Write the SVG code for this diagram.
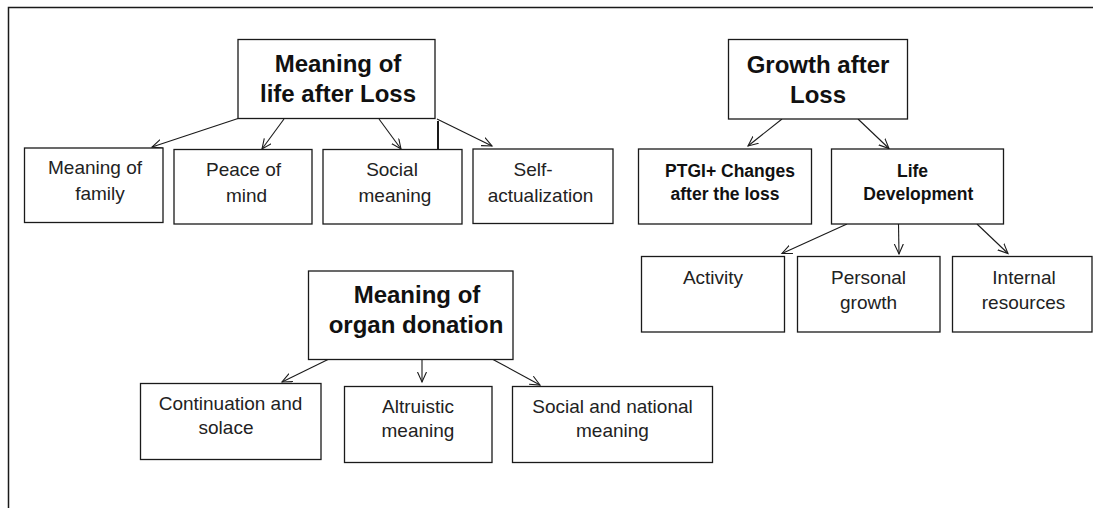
<svg xmlns="http://www.w3.org/2000/svg" width="1093" height="508" viewBox="0 0 1093 508">
<defs>
<style>
.box{fill:#fff;stroke:#1a1a1a;stroke-width:1.3}
.head{font-family:"Liberation Sans",Arial,sans-serif;font-weight:bold;font-size:24px;fill:#111;text-anchor:middle}
.sub{font-family:"Liberation Sans",Arial,sans-serif;font-weight:bold;font-size:17.5px;fill:#111;text-anchor:middle}
.lbl{font-family:"Liberation Sans",Arial,sans-serif;font-size:19px;fill:#222;text-anchor:middle}
.con{stroke:#1a1a1a;stroke-width:1.1;fill:none;marker-end:url(#arr)}
</style>
<marker id="arr" markerUnits="userSpaceOnUse" markerWidth="12" markerHeight="12" viewBox="0 0 12 12" refX="10" refY="5" orient="auto">
<path d="M0,0.5 L10,5 L0,9.5" fill="none" stroke="#1a1a1a" stroke-width="1.1"/>
</marker>
</defs>
<rect width="1093" height="508" fill="#fff"/>
<path d="M8.5,508 V7.5 H1093" fill="none" stroke="#1a1a1a" stroke-width="1.5"/>

<g id="connectors">
<line class="con" x1="238" y1="118.5" x2="152" y2="147"/>
<line class="con" x1="284" y1="119" x2="262" y2="149"/>
<line class="con" x1="379" y1="119" x2="401" y2="149"/>
<line x1="438" y1="121" x2="438" y2="149" stroke="#1a1a1a" stroke-width="2"/>
<line class="con" x1="437" y1="119" x2="492" y2="146"/>
<line class="con" x1="782" y1="119" x2="748" y2="146"/>
<line class="con" x1="858" y1="119" x2="889" y2="148.5"/>
<line class="con" x1="847" y1="224" x2="782" y2="253.5"/>
<line class="con" x1="898.5" y1="224" x2="899" y2="254"/>
<line class="con" x1="977" y1="224" x2="1008" y2="253.5"/>
<line class="con" x1="328" y1="359.5" x2="282" y2="382"/>
<line class="con" x1="422" y1="359.5" x2="422" y2="382"/>
<line class="con" x1="493" y1="359.5" x2="540" y2="385"/>
</g>

<g id="meaning-life">
<rect class="box" x="238" y="39.5" width="197" height="79"/>
<text class="head" x="338" y="71.7">Meaning of</text>
<text class="head" x="338" y="101.7">life after Loss</text>
</g>
<g id="meaning-family">
<rect class="box" x="24.5" y="148" width="138.5" height="74.5"/>
<text class="lbl" x="95" y="174">Meaning of</text>
<text class="lbl" x="100" y="199.5">family</text>
</g>
<g id="peace-mind">
<rect class="box" x="174" y="149.5" width="138" height="74.5"/>
<text class="lbl" x="243.5" y="176">Peace of</text>
<text class="lbl" x="246.5" y="201.5">mind</text>
</g>
<g id="social-meaning">
<rect class="box" x="323" y="149.5" width="139" height="74.5"/>
<text class="lbl" x="392" y="176">Social</text>
<text class="lbl" x="395" y="201.5">meaning</text>
</g>
<g id="self-actualization">
<rect class="box" x="473" y="149" width="140" height="74.5"/>
<text class="lbl" x="533" y="176">Self-</text>
<text class="lbl" x="540.5" y="201.5">actualization</text>
</g>

<g id="growth">
<rect class="box" x="728.5" y="39.5" width="179" height="79.5"/>
<text class="head" x="818" y="72.7">Growth after</text>
<text class="head" x="818" y="103">Loss</text>
</g>
<g id="ptgi">
<rect class="box" x="638.5" y="149" width="173" height="75"/>
<text class="sub" x="730" y="177">PTGI+ Changes</text>
<text class="sub" x="725" y="200">after the loss</text>
</g>
<g id="life-development">
<rect class="box" x="831.5" y="149" width="172" height="75"/>
<text class="sub" x="912.5" y="177">Life</text>
<text class="sub" x="918.3" y="200">Development</text>
</g>
<g id="activity">
<rect class="box" x="641.5" y="256.5" width="143" height="75.5"/>
<text class="lbl" x="713" y="283.5">Activity</text>
</g>
<g id="personal-growth">
<rect class="box" x="797.5" y="256.5" width="142.5" height="75.5"/>
<text class="lbl" x="868.5" y="283.5">Personal</text>
<text class="lbl" x="868.5" y="308.5">growth</text>
</g>
<g id="internal-resources">
<rect class="box" x="952.5" y="256.5" width="139.5" height="75.5"/>
<text class="lbl" x="1024" y="283.5">Internal</text>
<text class="lbl" x="1023.5" y="308.5">resources</text>
</g>

<g id="organ-donation">
<rect class="box" x="308.5" y="271" width="204.5" height="88.5"/>
<text class="head" x="417" y="303.3">Meaning of</text>
<text class="head" x="416" y="333.3">organ donation</text>
</g>
<g id="continuation">
<rect class="box" x="140.5" y="383.5" width="180.5" height="76"/>
<text class="lbl" x="230.5" y="410">Continuation and</text>
<text class="lbl" x="226" y="433.5">solace</text>
</g>
<g id="altruistic">
<rect class="box" x="344.5" y="386.5" width="147.5" height="76"/>
<text class="lbl" x="418" y="413.3">Altruistic</text>
<text class="lbl" x="418" y="436.7">meaning</text>
</g>
<g id="social-national">
<rect class="box" x="512.5" y="386.5" width="200" height="76"/>
<text class="lbl" x="612.5" y="413.3">Social and national</text>
<text class="lbl" x="612.5" y="436.7">meaning</text>
</g>
</svg>
